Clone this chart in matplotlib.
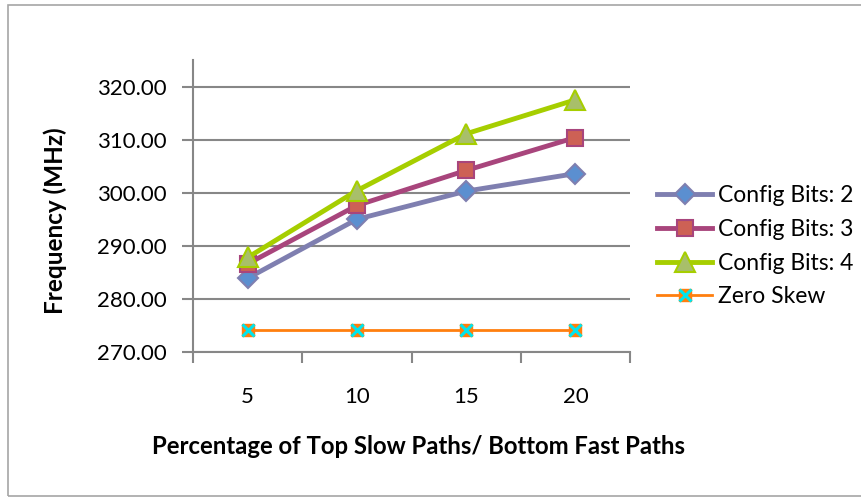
import matplotlib.pyplot as plt
from matplotlib.patches import Rectangle
from matplotlib.legend_handler import HandlerTuple

plt.rcParams['font.family'] = ['Lato', 'DejaVu Sans']

# chart data
percentages = [5, 10, 15, 20]
config_bits_2 = [283.9, 295.0, 300.3, 303.6]
config_bits_3 = [286.6, 297.6, 304.2, 310.4]
config_bits_4 = [287.8, 300.4, 311.1, 317.5]
zero_skew = [274.1, 274.1, 274.1, 274.1]
y_ticks = [270, 280, 290, 300, 310, 320]

fig = plt.figure(figsize=(8.61, 4.97), dpi=100)
ax = fig.add_axes([193 / 861, 1 - 352 / 497, 437 / 861, 292 / 497])

# outer chart border (right edge falls outside the picture)
fig.patches.append(Rectangle((8 / 861, 1 / 497), 1.0, 491 / 497, transform=fig.transFigure,
                             fill=False, edgecolor='#a6a6a6', linewidth=1.2))

x = list(range(len(percentages)))

h2, = ax.plot(x, config_bits_2, color='#7f7fb0', linewidth=3.5, marker='D', markersize=10,
              markerfacecolor='#5b8fd0', markeredgecolor='#7f7fb0', markeredgewidth=1.5,
              label='Config Bits: 2', zorder=3)
h3, = ax.plot(x, config_bits_3, color='#a8457c', linewidth=3.5, marker='s', markersize=12,
              markerfacecolor='#cd6155', markeredgecolor='#a8457c', markeredgewidth=1.5,
              label='Config Bits: 3', zorder=4)
h4, = ax.plot(x, config_bits_4, color='#a6ce00', linewidth=3.5, marker='^', markersize=14,
              markerfacecolor='#a8bf6a', markeredgecolor='#a6ce00', markeredgewidth=1.5,
              label='Config Bits: 4', zorder=5)
hz, = ax.plot(x, zero_skew, color='#ff7f0e', linewidth=2, marker='s', markersize=8,
              markerfacecolor='#ff7f0e', markeredgecolor='#ff7f0e', zorder=3)
hx, = ax.plot(x, zero_skew, linestyle='none', marker='x', markersize=8,
              markeredgecolor='#00e5ee', markeredgewidth=2.2, zorder=4)

ax.set_xlim(-0.5, len(percentages) - 0.5)
ax.set_ylim(270, 325)
ax.set_yticks(y_ticks)
ax.set_yticklabels(['%.2f' % v for v in y_ticks])
ax.set_xticks(x)
ax.set_xticklabels([str(p) for p in percentages])
ax.set_xticks([i - 0.5 for i in range(len(percentages) + 1)], minor=True)

ax.grid(axis='y', color='#878787', linewidth=1.5)
ax.set_axisbelow(True)
for side in ['top', 'right']:
    ax.spines[side].set_visible(False)
for side in ['left', 'bottom']:
    ax.spines[side].set_color('#878787')
    ax.spines[side].set_linewidth(1.5)

ax.tick_params(axis='y', direction='out', length=8, width=1.5, color='#878787',
               labelsize=16, pad=11)
ax.tick_params(axis='x', which='major', length=0, labelsize=16, pad=25)
ax.tick_params(axis='x', which='minor', direction='out', length=8, width=1.5, color='#878787')

# y axis title sits a bit below the axes centre, as in the original
fig.text(55 / 861, 1 - 221 / 497, 'Frequency (MHz)', rotation=90, ha='center', va='center',
         fontsize=17.5, fontweight='bold')
ax.set_xlabel('Percentage of Top Slow Paths/ Bottom Fast Paths', fontsize=17.2,
              fontweight='bold')
ax.xaxis.set_label_coords(0.517, -0.285)

ax.legend([h2, h3, h4, (hz, hx)], ['Config Bits: 2', 'Config Bits: 3', 'Config Bits: 4', 'Zero Skew'],
          handler_map={tuple: HandlerTuple(ndivide=1, pad=0)},
          loc='center left', bbox_to_anchor=((657 - 193) / 437, 0.362), frameon=False,
          fontsize=16.5, handlelength=2.4, handletextpad=0.25, labelspacing=0.55,
          borderaxespad=0, borderpad=0)

fig.savefig('out.png', dpi=100)
